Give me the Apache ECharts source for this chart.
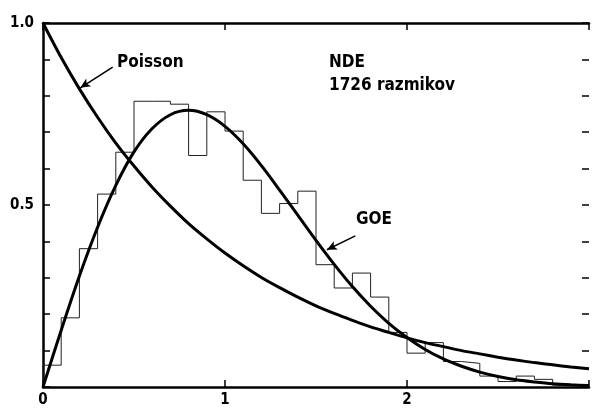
<!DOCTYPE html>
<html lang="en">
<head>
    <meta charset="UTF-8">
    <title>NDE spacing distribution</title>
    <script src="https://cdn.jsdelivr.net/npm/echarts@6/dist/echarts.min.js"></script>
    <style>
        html, body { margin: 0; padding: 0; background: #fff; }
        #container { width: 592px; height: 410px; }
    </style>
</head>
<body>
<div id="container"></div>
<script>
    // spacing s (bin left edges, last one closes the histogram)
    var binEdges = [0, 0.1, 0.2, 0.3, 0.4, 0.5, 0.6, 0.7, 0.8, 0.9,
        1.0, 1.1, 1.2, 1.3, 1.4, 1.5, 1.6, 1.7, 1.8, 1.9,
        2.0, 2.1, 2.2, 2.3, 2.4, 2.5, 2.6, 2.7, 2.8, 2.9, 3.0];
    // histogram heights (one per bin)
    var histValues = [0.06, 0.19, 0.38, 0.53, 0.645, 0.785, 0.785, 0.777, 0.636, 0.756,
        0.703, 0.568, 0.477, 0.504, 0.538, 0.336, 0.272, 0.313, 0.247, 0.15,
        0.093, 0.122, 0.07, 0.065, 0.03, 0.015, 0.03, 0.021, 0.005, 0.005];
    // curves read at the same s points
    var curveS = binEdges;
    var poissonValues = [1.0, 0.905, 0.819, 0.741, 0.670, 0.607, 0.549, 0.497, 0.449, 0.407,
        0.368, 0.333, 0.301, 0.273, 0.247, 0.223, 0.202, 0.183, 0.165, 0.150,
        0.135, 0.122, 0.111, 0.100, 0.091, 0.082, 0.074, 0.067, 0.061, 0.055, 0.050];
    var goeValues = [0, 0.156, 0.305, 0.439, 0.554, 0.646, 0.710, 0.748, 0.760, 0.748,
        0.716, 0.668, 0.608, 0.541, 0.472, 0.403, 0.337, 0.276, 0.222, 0.175,
        0.136, 0.103, 0.077, 0.057, 0.041, 0.029, 0.020, 0.014, 0.009, 0.006, 0.004];
    var xTickLabels = ['0', '1', '2'];
    // arrows pointing at the curves: [from, to] in data coordinates
    var poissonArrow = [[0.383, 0.879], [0.205, 0.822]];
    var goeArrow = [[1.716, 0.415], [1.56, 0.377]];

    var font = '"DejaVu Sans Condensed", "Liberation Sans Narrow", sans-serif';

    var histData = [[binEdges[0], 0]];
    for (var i = 0; i < histValues.length; i++) {
        histData.push([binEdges[i], histValues[i]]);
    }
    histData.push([binEdges[binEdges.length - 1], histValues[histValues.length - 1]]);

    var poissonData = curveS.map(function (s, i) { return [s, poissonValues[i]]; });
    var goeData = curveS.map(function (s, i) { return [s, goeValues[i]]; });

    function arrowLine(a) {
        return [[{ coord: a[0], symbol: 'none' }, { coord: a[1], symbol: 'arrow', symbolSize: [7, 10] }]];
    }

    var myChart = echarts.init(document.getElementById('container'));

    var axisLineStyle = { color: '#000', width: 2.5 };
    var tickStyle = { color: '#000', width: 1.5 };

    var option = {
        animation: false,
        grid: { left: 43, right: 0, top: 23, bottom: 23, containLabel: false },
        xAxis: [{
            type: 'value', min: 0, max: 3, interval: 1,
            axisLine: { onZero: false, lineStyle: axisLineStyle },
            axisTick: { inside: true, length: 7, lineStyle: tickStyle },
            axisLabel: {
                color: '#000', fontFamily: font, fontWeight: 'bold', fontSize: 15, margin: 6,
                formatter: function (v) { return xTickLabels[Math.round(v)] || ''; }
            },
            splitLine: { show: false }
        }, {
            type: 'value', min: 0, max: 3, interval: 1, position: 'top',
            axisLine: { onZero: false, lineStyle: axisLineStyle },
            axisTick: { inside: true, length: 7, lineStyle: tickStyle },
            axisLabel: { show: false },
            splitLine: { show: false }
        }],
        yAxis: [{
            type: 'value', min: 0, max: 1, interval: 0.1,
            axisLine: { onZero: false, lineStyle: axisLineStyle },
            axisTick: { inside: true, length: 7, lineStyle: tickStyle },
            axisLabel: {
                color: '#000', fontFamily: font, fontWeight: 'bold', fontSize: 15, margin: 9,
                formatter: function (v) {
                    if (Math.abs(v - 1) < 1e-6) return '1.0';
                    if (Math.abs(v - 0.5) < 1e-6) return '0.5';
                    return '';
                }
            },
            splitLine: { show: false }
        }, {
            type: 'value', min: 0, max: 1, interval: 0.1, position: 'right',
            axisLine: { show: false, onZero: false },
            axisTick: { show: true, inside: true, length: 7, lineStyle: tickStyle },
            axisLabel: { show: false },
            splitLine: { show: false }
        }],
        series: [{
            name: 'NDE',
            type: 'line',
            step: 'end',
            data: histData,
            symbol: 'none',
            lineStyle: { color: '#222', width: 1 }
        }, {
            name: 'Poisson',
            type: 'line',
            smooth: 0.3,
            data: poissonData,
            symbol: 'none',
            lineStyle: { color: '#000', width: 3 },
            markLine: {
                silent: true,
                label: { show: false },
                lineStyle: { color: '#000', width: 1.5, type: 'solid' },
                data: arrowLine(poissonArrow)
            }
        }, {
            name: 'GOE',
            type: 'line',
            smooth: 0.3,
            data: goeData,
            symbol: 'none',
            lineStyle: { color: '#000', width: 3 },
            markLine: {
                silent: true,
                label: { show: false },
                lineStyle: { color: '#000', width: 1.5, type: 'solid' },
                data: arrowLine(goeArrow)
            }
        }],
        graphic: [{
            type: 'text', left: 117, top: 54,
            style: { text: 'Poisson', fill: '#000', font: 'bold 17px ' + font }
        }, {
            type: 'text', left: 329, top: 54,
            style: { text: 'NDE', fill: '#000', font: 'bold 17px ' + font }
        }, {
            type: 'text', left: 329, top: 77,
            style: { text: '1726 razmikov', fill: '#000', font: 'bold 17px ' + font }
        }, {
            type: 'text', left: 356, top: 211,
            style: { text: 'GOE', fill: '#000', font: 'bold 17px ' + font }
        }]
    };

    myChart.setOption(option);
</script>
</body>
</html>
